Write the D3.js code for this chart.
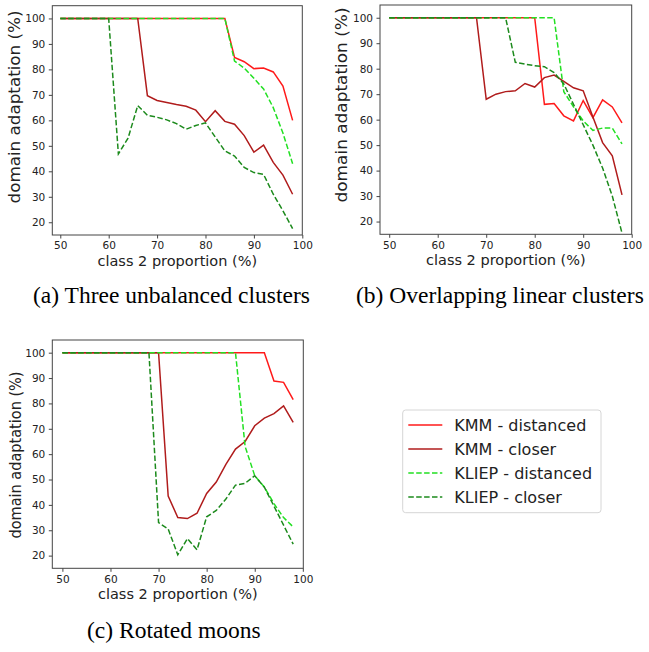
<!DOCTYPE html>
<html>
<head>
<meta charset="utf-8">
<script src="https://cdn.jsdelivr.net/npm/d3@7"></script>
<style>
  html, body { margin: 0; padding: 0; background: #fff; }
  svg { display: block; }
  .tick text { font-family: "DejaVu Sans", sans-serif; font-size: 10.5px; fill: #222; }
  .tick line, .domain { stroke: #444; }
</style>
</head>
<body>
<svg id="chart" width="649" height="652"></svg>
<script>
// x positions (class 2 proportion, %)
const proportions = [50, 52, 54, 56, 58, 60, 62, 64, 66, 68, 70, 72, 74, 76, 78, 80, 82, 84, 86, 88, 90, 92, 94, 96, 98];
const xTicks = [50, 60, 70, 80, 90, 100];
const yTicks = [20, 30, 40, 50, 60, 70, 80, 90, 100];

const seriesNames = ['KMM - distanced', 'KMM - closer', 'KLIEP - distanced', 'KLIEP - closer'];

// (a) Three unbalanced clusters
const aKmmDistanced   = [100,100,100,100,100,100,100,100,100,100,100,100,100,100,100,100,100,100, 84.7, 83, 80.3, 80.5, 79, 73.5, 60];
const aKmmCloser      = [100,100,100,100,100,100,100,100,100, 69.7, 67.8, 67, 66.2, 65.5, 64, 59.5, 63.8, 59.6, 58.5, 54, 47.5, 50.3, 43.5, 38.5, 31];
const aKliepDistanced = [100,100,100,100,100,100,100,100,100,100,100,100,100,100,100,100,100,100, 83.3, 80.5, 76.5, 72.3, 65, 55, 43];
const aKliepCloser    = [100,100,100,100,100,100, 46.8, 53, 65.8, 62, 61.2, 60.2, 58.7, 56.5, 58, 59, 53.5, 48, 46, 41.5, 39.5, 38.8, 31, 24.5, 17.5];

// (b) Overlapping linear clusters
const bKmmDistanced   = [100,100,100,100,100,100,100,100,100,100,100,100,100,100,100,100, 66, 66.3, 61.5, 59.5, 67.5, 60.8, 67.8, 65, 58.7];
const bKmmCloser      = [100,100,100,100,100,100,100,100,100,100, 68, 70, 71, 71.3, 74.2, 72.8, 76.5, 77.5, 75, 72.5, 71.3, 61, 51, 45.8, 30.5];
const bKliepDistanced = [100,100,100,100,100,100,100,100,100,100,100,100,100,100,100,100,100,100, 71, 65, 59.5, 55.8, 56.7, 56.7, 50.5];
const bKliepCloser    = [100,100,100,100,100,100,100,100,100,100,100,100,100, 82.5, 81.8, 81.2, 80.8, 78.5, 74, 66, 58, 50, 41, 30, 15.5];

// (c) Rotated moons
const cKmmDistanced   = [100,100,100,100,100,100,100,100,100,100,100,100,100,100,100,100,100,100,100,100,100,100, 88.8, 88.3, 81.5];
const cKmmCloser      = [100,100,100,100,100,100,100,100,100,100,100, 43.5, 35, 34.6, 36.7, 44.5, 49, 56, 62, 65, 71.2, 74.2, 76, 79, 72.5];
const cKliepDistanced = [100,100,100,100,100,100,100,100,100,100,100,100,100,100,100,100,100,100,100, 63, 51.5, 47, 40.5, 35, 31.3];
const cKliepCloser    = [100,100,100,100,100,100,100,100,100,100, 33, 30.5, 20.3, 26.7, 22.3, 35.3, 37.8, 42.3, 47.8, 48.5, 51.5, 47, 39.5, 32, 24.5];

const styles = [
  { color: '#ff1a1a', dash: null },
  { color: '#b01c1c', dash: null },
  { color: '#22e022', dash: '5.5,2.4' },
  { color: '#1c8a1c', dash: '5.5,2.4' },
];

const svg = d3.select('#chart');

function drawPanel(p) {
  const x = d3.scaleLinear().domain(p.xDomain).range([p.left, p.right]);
  const y = d3.scaleLinear().domain([15, 105]).range([p.bottom, p.top]);

  const g = svg.append('g');

  g.append('clipPath').attr('id', p.id + '-clip')
    .append('rect')
    .attr('x', p.left).attr('y', p.top)
    .attr('width', p.right - p.left).attr('height', p.bottom - p.top);

  const line = d3.line().x((d, i) => x(proportions[i])).y(d => y(d));

  const lines = g.append('g').attr('clip-path', `url(#${p.id}-clip)`);
  p.series.forEach((values, i) => {
    lines.append('path')
      .attr('d', line(values))
      .attr('fill', 'none')
      .attr('stroke', styles[i].color)
      .attr('stroke-width', 1.5)
      .attr('stroke-dasharray', styles[i].dash);
  });

  // frame
  g.append('rect')
    .attr('x', p.left).attr('y', p.top)
    .attr('width', p.right - p.left).attr('height', p.bottom - p.top)
    .attr('fill', 'none').attr('stroke', '#444').attr('stroke-width', 1);

  g.append('g')
    .attr('transform', `translate(0,${p.bottom})`)
    .call(d3.axisBottom(x).tickValues(xTicks).tickSize(3.5).tickPadding(3.5))
    .call(s => s.select('.domain').remove());

  g.append('g')
    .attr('transform', `translate(${p.left},0)`)
    .call(d3.axisLeft(y).tickValues(yTicks).tickSize(3.5).tickPadding(3.5))
    .call(s => s.select('.domain').remove());

  g.append('text')
    .attr('x', (p.left + p.right) / 2).attr('y', p.bottom + 31)
    .attr('text-anchor', 'middle')
    .style('font-family', '"DejaVu Sans", sans-serif').style('font-size', '14.5px').attr('fill', '#222')
    .text('class 2 proportion (%)');

  g.append('text')
    .attr('transform', `translate(${p.yLabelX},${p.yLabelY}) rotate(-90)`)
    .attr('text-anchor', 'middle')
    .attr('textLength', p.yLabelLen).attr('lengthAdjust', 'spacingAndGlyphs')
    .style('font-family', '"DejaVu Sans", sans-serif').style('font-size', '15px').attr('fill', '#222')
    .text('domain adaptation (%)');

  g.append('text')
    .attr('x', p.captionX).attr('y', p.captionY)
    .style('font-family', '"Liberation Serif", "Times New Roman", serif').style('font-size', '23.5px').attr('fill', '#000')
    .text(p.caption);
}

drawPanel({
  id: 'a', left: 52.3, right: 302.3, top: 5.7, bottom: 235, xDomain: [48.35, 100],
  series: [aKmmDistanced, aKmmCloser, aKliepDistanced, aKliepCloser],
  yLabelX: 20, yLabelY: 107, yLabelLen: 193,
  caption: '(a) Three unbalanced clusters', captionX: 33, captionY: 303,
});

drawPanel({
  id: 'b', left: 380, right: 631.7, top: 5, bottom: 234.3, xDomain: [48.1, 100],
  series: [bKmmDistanced, bKmmCloser, bKliepDistanced, bKliepCloser],
  yLabelX: 347, yLabelY: 105, yLabelLen: 195,
  caption: '(b) Overlapping linear clusters', captionX: 356, captionY: 303,
});

drawPanel({
  id: 'c', left: 52.3, right: 303.3, top: 340, bottom: 568.3, xDomain: [47.9, 100.1],
  series: [cKmmDistanced, cKmmCloser, cKliepDistanced, cKliepCloser],
  yLabelX: 20.5, yLabelY: 455, yLabelLen: 167,
  caption: '(c) Rotated moons', captionX: 87, captionY: 638,
});

// legend
const legend = svg.append('g');
legend.append('rect')
  .attr('x', 402.7).attr('y', 410).attr('width', 198.3).attr('height', 102.7)
  .attr('rx', 3).attr('fill', '#fff').attr('stroke', '#d6d6d6');

const legendY = d3.scalePoint().domain(seriesNames).range([425, 497]);
seriesNames.forEach((name, i) => {
  const yy = legendY(name);
  legend.append('line')
    .attr('x1', 408.3).attr('x2', 442.3).attr('y1', yy).attr('y2', yy)
    .attr('stroke', styles[i].color).attr('stroke-width', 1.5)
    .attr('stroke-dasharray', styles[i].dash);
  legend.append('text')
    .attr('x', 454.3).attr('y', yy).attr('dy', '0.36em')
    .style('font-family', '"DejaVu Sans", sans-serif').style('font-size', '16px').attr('fill', '#222')
    .text(name);
});
</script>
</body>
</html>
